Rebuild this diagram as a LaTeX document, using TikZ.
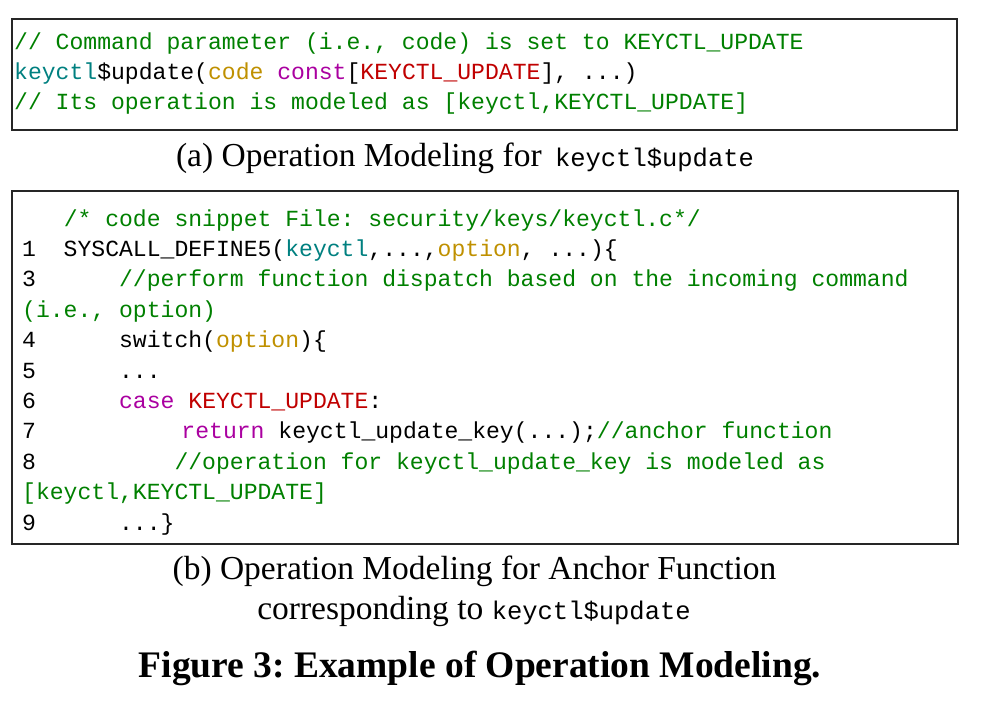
\documentclass[tikz,border=0pt]{standalone}
\usepackage{fontspec}
\setmainfont{Liberation Serif}
\setmonofont{Liberation Mono}
\frenchspacing

\definecolor{cmtgreen}{RGB}{0,128,0}
\definecolor{fnteal}{RGB}{0,128,128}
\definecolor{prmgold}{RGB}{191,144,0}
\definecolor{kwpurple}{RGB}{170,0,160}
\definecolor{cstred}{RGB}{192,0,0}

\newcommand\cmt[1]{\textcolor{cmtgreen}{#1}}
\newcommand\fn[1]{\textcolor{fnteal}{#1}}
\newcommand\prm[1]{\textcolor{prmgold}{#1}}
\newcommand\kw[1]{\textcolor{kwpurple}{#1}}
\newcommand\cst[1]{\textcolor{cstred}{#1}}

\newlength\cw
\setlength\cw{13.85pt}
\newcommand\ind[1]{\hspace*{#1\cw}}
\newcommand\codefont{\ttfamily\fontsize{23.08pt}{28pt}\selectfont}
\newcommand\capfont{\rmfamily\fontsize{33.5pt}{40pt}\selectfont}
\newcommand\capmono[1]{{\ttfamily\fontsize{25.5pt}{30pt}\selectfont #1}}

\tikzset{
    codeline/.style = {anchor = base west, inner sep = 0, font = \codefont},
    subcap/.style = {anchor = base, inner sep = 0, font = \capfont},
    codebox/.style = {draw = black!85, line width = 1.1pt}
}

\begin{document}
\begin{tikzpicture}[
        x = 1pt,
        y = -1pt
    ]
        \useasboundingbox (0, 0) rectangle (984, 711);

        % (a) the syscall description
        \draw[codebox] (12, 19) rectangle (957, 130);
        \node[codeline] (a1) at (14, 50) {\cmt{// Command parameter (i.e., code) is set to KEYCTL\_UPDATE}};
        \node[codeline] (a2) at (14, 80) {\fn{keyctl}\$update(\prm{code} \kw{const}[\cst{KEYCTL\_UPDATE}], ...)};
        \node[codeline] (a3) at (14, 110) {\cmt{// Its operation is modeled as [keyctl,KEYCTL\_UPDATE]}};
        \node[subcap] (capa) at (465, 167) {(a) Operation Modeling for\hspace{5pt} \capmono{keyctl\$update}};

        % (b) the kernel source
        \draw[codebox] (12, 191) rectangle (958, 544);
        \begin{scope}[shift={(22, 226)}]
            \node[codeline] (b0) at (0, 0) {\ind{3}\cmt{/* code snippet File: security/keys/keyctl.c*/}};
            \node[codeline] (b1) at (0, 30.4) {1\ind{2}SYSCALL\_DEFINE5(\fn{keyctl},...,\prm{option}, ...)\{};
            \node[codeline] (b2) at (0, 60.8) {3\ind{6}\cmt{//perform function dispatch based on the incoming command}};
            \node[codeline] (b3) at (0, 91.2) {\cmt{(i.e., option)}};
            \node[codeline] (b4) at (0, 121.6) {4\ind{6}switch(\prm{option})\{};
            \node[codeline] (b5) at (0, 152) {5\ind{6}...};
            \node[codeline] (b6) at (0, 182.4) {6\ind{6}\kw{case} \cst{KEYCTL\_UPDATE}:};
            \node[codeline] (b7) at (0, 212.8) {7\ind{10.5}\kw{return} keyctl\_update\_key(...);\cmt{//anchor function}};
            \node[codeline] (b8) at (0, 243.2) {8\ind{10}\cmt{//operation for keyctl\_update\_key is modeled as}};
            \node[codeline] (b9) at (0, 273.6) {\cmt{[keyctl,KEYCTL\_UPDATE]}};
            \node[codeline] (b10) at (0, 304) {9\ind{6}...\}};
        \end{scope}
        \node[subcap] (capb1) at (474.5, 579) {(b) Operation Modeling for Anchor Function};
        \node[subcap] (capb2) at (474, 619) {corresponding to \capmono{keyctl\$update}};

        \node[subcap, font = \rmfamily\bfseries\fontsize{37.5pt}{44pt}\selectfont] (fig) at (480, 677) {Figure 3: Example of Operation Modeling.};
    \end{tikzpicture}
\end{document}
